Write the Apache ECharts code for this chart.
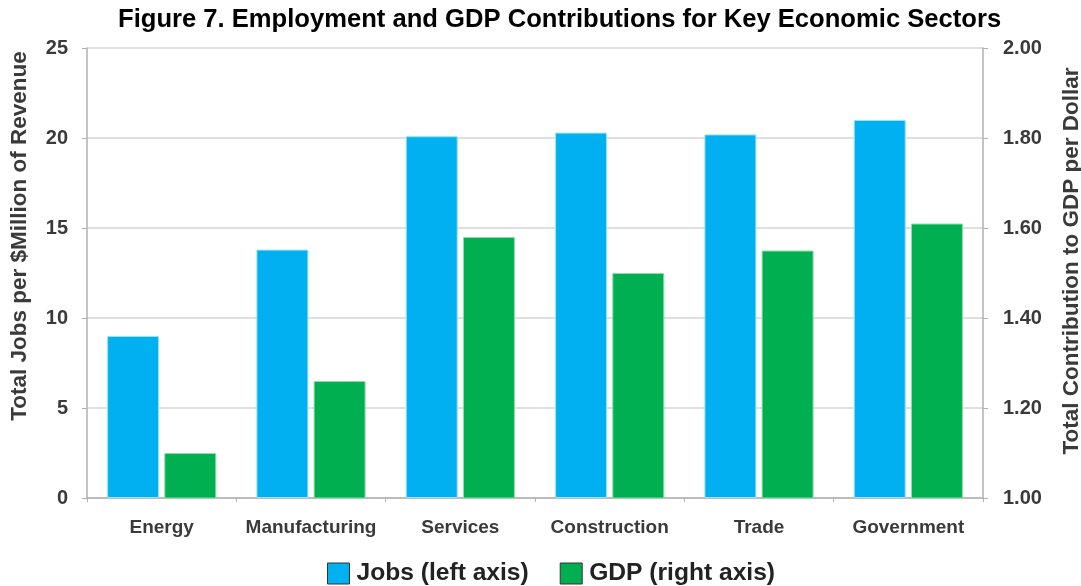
<!DOCTYPE html>
<html>
<head>
<meta charset="utf-8">
<script src="https://cdn.jsdelivr.net/npm/echarts@6/dist/echarts.min.js"></script>
<style>
  html, body { margin: 0; padding: 0; background: #fff; }
  #chart { width: 1081px; height: 586px; }
</style>
</head>
<body>
<div id="chart"></div>
<script>
// Sectors along the horizontal axis
const sectors = ['Energy', 'Manufacturing', 'Services', 'Construction', 'Trade', 'Government'];
// Total jobs per $million of revenue (left axis)
const jobs = [9.0, 13.8, 20.1, 20.3, 20.2, 21.0];
// Total contribution to GDP per dollar (right axis)
const gdp = [1.10, 1.26, 1.58, 1.50, 1.55, 1.61];

const FONT = '"Liberation Sans", Arial, Helvetica, sans-serif';
const LABEL = '#3a3a3a';
const AXIS = '#b0b0b0';
const chart = echarts.init(document.getElementById('chart'));

// Vertical axis titles, drawn as rotated text beside each value axis
const axisTitle = (text, x, y) => ({
  type: 'text',
  x: x, y: y,
  rotation: Math.PI / 2,
  style: {
    text: text,
    fontFamily: FONT, fontSize: 22.5, fontWeight: 'bold',
    fill: LABEL, align: 'center', verticalAlign: 'middle'
  }
});

chart.setOption({
  animation: false,
  backgroundColor: '#ffffff',
  title: {
    text: 'Figure 7. Employment and GDP Contributions for Key Economic Sectors',
    left: 118,
    top: 7,
    padding: 0,
    textStyle: { fontFamily: FONT, fontSize: 25.6, fontWeight: 'bold', color: '#000' }
  },
  legend: {
    left: 327,
    top: 561,
    padding: 0,
    itemWidth: 22,
    itemHeight: 21,
    itemGap: 31,
    textStyle: { fontFamily: FONT, fontSize: 24.6, fontWeight: 'bold', color: '#222', padding: [0, 0, 0, 2] },
    data: [
      { name: 'Jobs (left axis)', icon: 'rect', itemStyle: { color: '#00B0F0', borderColor: '#333', borderWidth: 1 } },
      { name: 'GDP (right axis)', icon: 'rect', itemStyle: { color: '#00B050', borderColor: '#333', borderWidth: 1 } }
    ]
  },
  graphic: [
    axisTitle('Total Jobs per $Million of Revenue', 20, 236),
    axisTitle('Total Contribution to GDP per Dollar', 1072, 261)
  ],
  grid: { left: 87, right: 98, top: 48, bottom: 88, containLabel: false, outerBoundsMode: 'none' },
  xAxis: {
    type: 'category',
    data: sectors,
    axisLine: { lineStyle: { color: AXIS, width: 1.5 } },
    axisTick: { show: true, length: 4, lineStyle: { color: AXIS } },
    axisLabel: { interval: 0, fontFamily: FONT, fontSize: 19, fontWeight: 'bold', color: LABEL, margin: 20 }
  },
  yAxis: [
    {
      type: 'value',
      min: 0, max: 25, interval: 5,
      position: 'left',
      axisLine: { show: true, lineStyle: { color: AXIS, width: 1.5 } },
      axisTick: { show: true, length: 5, lineStyle: { color: AXIS } },
      axisLabel: { fontFamily: FONT, fontSize: 20, fontWeight: 'bold', color: LABEL, margin: 19 },
      splitLine: { show: true, lineStyle: { color: '#d4d4d4', width: 1.5 } }
    },
    {
      type: 'value',
      min: 1, max: 2, interval: 0.2,
      position: 'right',
      axisLine: { show: true, lineStyle: { color: AXIS, width: 1.5 } },
      axisTick: { show: true, length: 5, lineStyle: { color: AXIS } },
      axisLabel: {
        fontFamily: FONT, fontSize: 20, fontWeight: 'bold', color: LABEL, margin: 20,
        formatter: v => v.toFixed(2)
      },
      splitLine: { show: false }
    }
  ],
  series: [
    {
      name: 'Jobs (left axis)',
      type: 'bar',
      yAxisIndex: 0,
      data: jobs,
      barWidth: 52,
      barGap: '10%',
      itemStyle: { color: '#00B0F0', borderColor: '#9be3ff', borderWidth: 1 }
    },
    {
      name: 'GDP (right axis)',
      type: 'bar',
      yAxisIndex: 1,
      data: gdp,
      barWidth: 52,
      barGap: '10%',
      clip: true,
      itemStyle: { color: '#00B050', borderColor: '#8fdcae', borderWidth: 1 }
    }
  ]
});
</script>
</body>
</html>
